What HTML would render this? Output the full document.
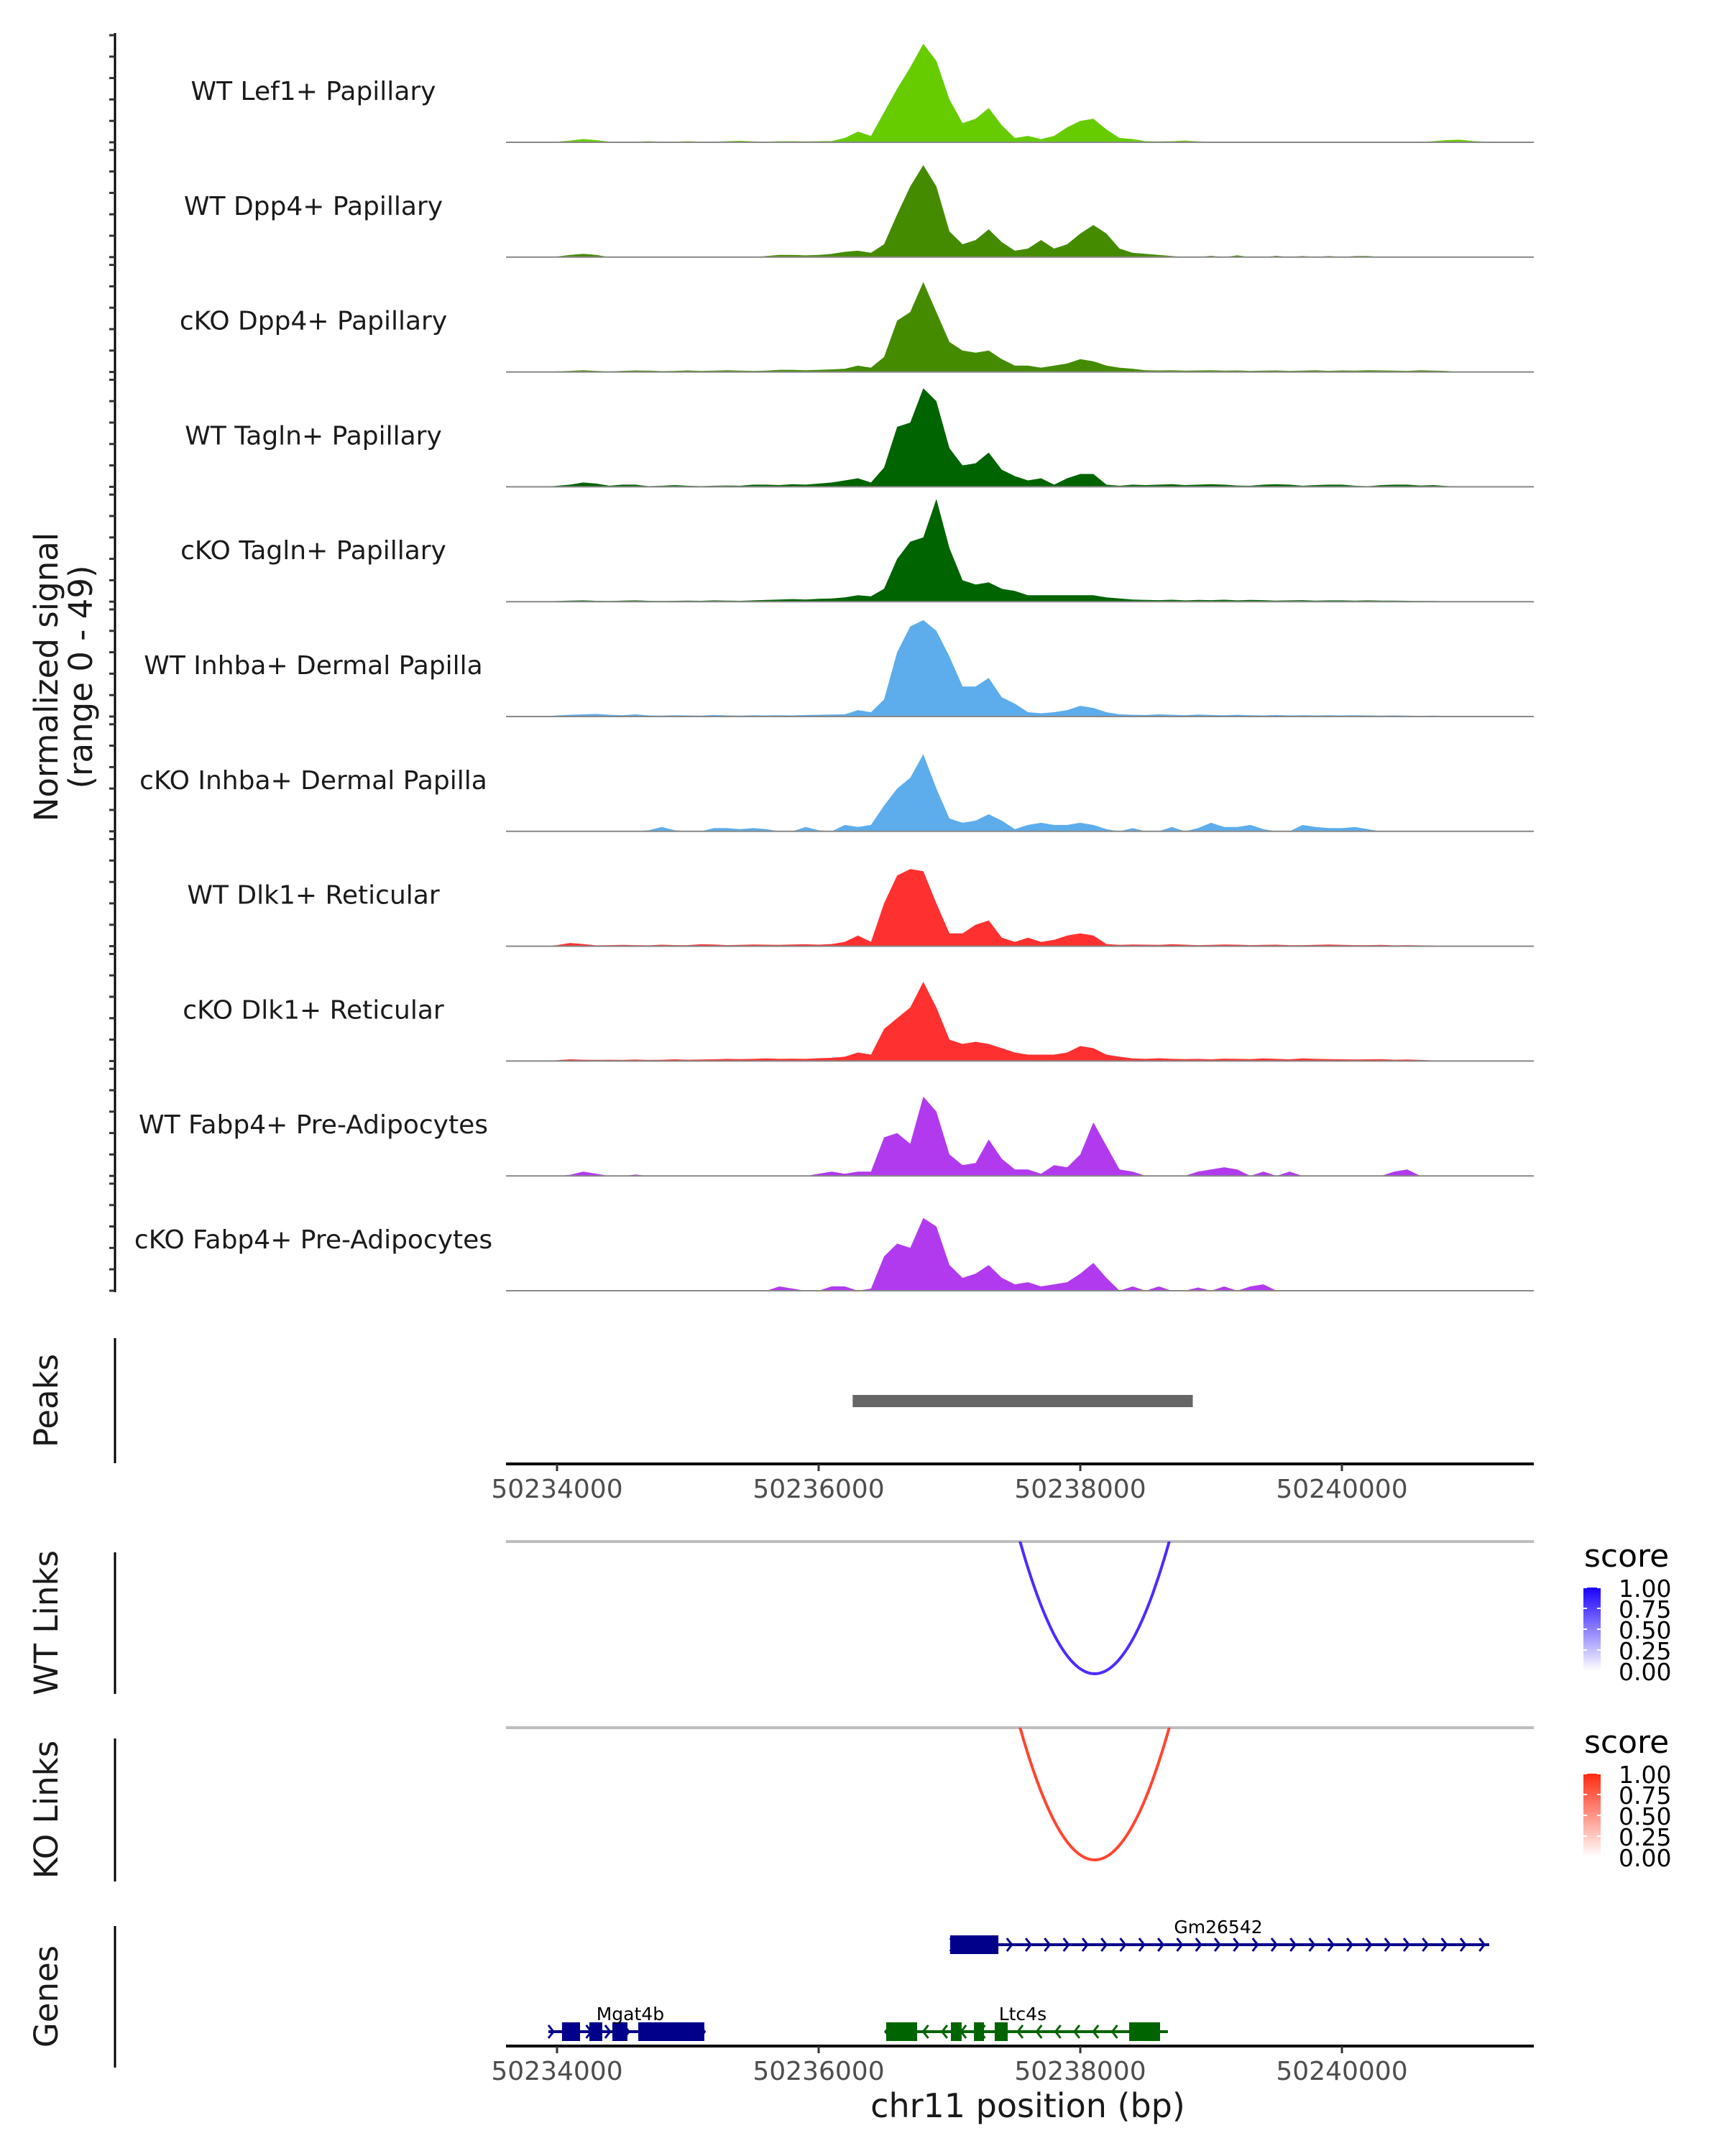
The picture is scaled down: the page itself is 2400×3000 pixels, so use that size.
<!DOCTYPE html>
<html><head><meta charset="utf-8"><style>
html,body{margin:0;padding:0;background:#fff;}
svg{display:block;font-family:"DejaVu Sans","Liberation Sans",sans-serif;}
</style></head><body>
<svg id="chart" width="2400" height="3000" viewBox="0 0 2400 3000" xmlns="http://www.w3.org/2000/svg">
<defs>
<linearGradient id="gBlue" x1="0" y1="1" x2="0" y2="0"><stop offset="0" stop-color="#ffffff"/><stop offset="1" stop-color="#1a00ff"/></linearGradient>
<linearGradient id="gRed" x1="0" y1="1" x2="0" y2="0"><stop offset="0" stop-color="#ffffff"/><stop offset="1" stop-color="#ff2a10"/></linearGradient>
<clipPath id="clipWT"><rect x="704" y="2145" width="1431" height="215"/></clipPath>
<clipPath id="clipKO"><rect x="704" y="2404" width="1431" height="215"/></clipPath>
</defs>
<g id="tracks"></g>
<g id="lower"></g>
</svg>
<script>
const ns="http://www.w3.org/2000/svg";
const trackNames=["WT Lef1+ Papillary","WT Dpp4+ Papillary","cKO Dpp4+ Papillary","WT Tagln+ Papillary","cKO Tagln+ Papillary","WT Inhba+ Dermal Papilla","cKO Inhba+ Dermal Papilla","WT Dlk1+ Reticular","cKO Dlk1+ Reticular","WT Fabp4+ Pre-Adipocytes","cKO Fabp4+ Pre-Adipocytes"];
const trackColors=["#66CC00","#458B00","#458B00","#006400","#006400","#5DADEC","#5DADEC","#FF3030","#FF3030","#B23AEE","#B23AEE"];
const binStart=50233700, binSize=100;
const lef1WT=[0,0,0,0.3,0.8,1.5,1,0.3,0.2,0.3,0.5,0.3,0.3,0.5,0.3,0.3,0.5,0.7,0.4,0.3,0.5,0.5,0.4,0.5,0.6,2,5,3,14,25,35,46,38,20,9,11,16,8,2,3,1.5,3,7,10,11,6,2,1.5,0.5,0.4,0.5,0.8,0.4,0.3,0.3,0.3,0.2,0.3,0.3,0.2,0.2,0.2,0.2,0.2,0.3,0.2,0.2,0.3,0.3,0.2,0.5,1,1.2,0.6,0.3,0,0,0];
const dpp4WT=[0,0,0,0.3,1,1.5,1,0,0,0,0,0,0,0,0,0,0,0,0,0.5,1,1,0.8,1,1.5,2.5,3,2,6,20,33,43,33,12,6,8,13,7,3,4,8,4,6,11,15,11,4,2,1.5,1,0.5,0,0,0.6,0,0.8,0,0,0.6,0,0.5,0,0.5,0,0.5,0.5,0,0,0,0,0,0,0,0,0,0,0,0];
const dpp4KO=[0,0,0,0.3,0.5,0.8,0.5,0.3,0.5,0.7,0.6,0.4,0.5,0.7,0.5,0.6,0.8,0.6,0.5,0.6,1,1,0.8,1,1.2,1.5,3,2,7,24,28,42,28,14,10,9,10,6,3,3,2,3,4,6,5,3,2,1.5,0.8,0.7,0.8,0.6,0.7,0.8,0.6,0.7,0.5,0.6,0.7,0.5,0.6,0.8,0.5,0.7,0.6,0.8,0.7,0.6,0.5,0.8,0.6,0.5,0,0,0,0,0,0];
const taglnWT=[0,0,0,0.5,1,2,1.5,0.5,1,1,0.3,0.5,0.8,0.5,0.3,0.5,0.6,0.5,1,1,0.8,1.2,1,1.5,2,3,4,2,9,28,30,46,40,18,10,11,16,8,5,3,4,1,4,6,6,1,0.5,1,0.8,1,1.2,0.8,1,1.2,1,0.6,0.5,1,1.2,1,0.5,0.8,1,1,0.5,0.3,0.8,1,1,0.6,0.8,0.4,0,0,0,0,0,0];
const taglnKO=[0,0,0,0.3,0.5,0.6,0.4,0.3,0.5,0.6,0.4,0.3,0.4,0.5,0.4,0.6,0.5,0.4,0.6,0.8,1,1.2,1,1.3,1.5,2,3,2.5,6,20,28,30,48,25,10,8,9,6,5,3,3,3,3,3,3,2,1.5,1,0.8,0.7,0.9,0.6,0.8,0.7,0.9,0.6,0.8,0.7,0.5,0.6,0.7,0.5,0.6,0.6,0.5,0.6,0.5,0.5,0.4,0.3,0.3,0.2,0,0,0,0,0,0];
const inhbaWT=[0,0,0,0.5,0.8,1,1.2,0.8,0.6,1,0.5,0.4,0.6,0.5,0.4,0.7,0.5,0.4,0.6,0.5,0.6,0.5,0.7,0.8,0.9,1,3,2,8,30,42,45,40,28,14,14,18,9,6,2,1.5,2,3,5,4,2,1,0.8,0.7,1,0.8,0.6,0.9,0.7,0.6,0.8,0.6,0.5,0.7,0.5,0.6,0.5,0.6,0.5,0.6,0.5,0.4,0.5,0.4,0.3,0.4,0.3,0,0,0,0,0,0];
const inhbaKO=[0,0,0,0,0,0,0,0,0,0,0.5,2,0.5,0,0,1.5,1.5,1,1.5,1,0,0,2,0.5,0,3,2,3,12,20,25,36,20,6,4,5,8,5,1,3,4,3,3,4,3,1,0,1.5,0,0,2,0,1.5,4,2,2,3,1,0,0,3,2,1.5,1.5,2,1,0,0,0,0,0,0,0,0,0,0,0,0];
const dlk1WT=[0,0,0,0.5,1.5,1,0.4,0.5,0.6,0.5,0.4,0.7,0.5,0.5,0.9,0.8,0.5,0.6,0.8,0.7,0.6,0.8,0.9,0.7,1,2,5,2,20,33,36,35,20,6,6,10,12,4,2,4,2,3,5,6,5,1,0.6,0.8,0.7,0.6,0.9,0.7,0.5,0.6,0.8,0.7,0.5,0.6,0.7,0.5,0.5,0.6,0.8,0.6,0.5,0.5,0.6,0.4,0.5,0.4,0.3,0,0,0,0,0,0,0];
const dlk1KO=[0,0,0,0.4,0.8,0.6,0.5,0.6,0.5,0.7,0.5,0.6,0.8,0.6,0.7,0.8,1,0.9,1,1.2,1,1.1,1,1.3,1.5,2,4,3,15,20,25,37,25,10,8,9,8,6,4,3,3,3,4,7,6,3,2,1.2,1,1.3,1,0.9,1,0.8,1.1,1,0.9,1.2,1,0.8,1.2,1,0.9,0.8,0.7,0.8,0.9,0.6,0.7,0.5,0.3,0.2,0,0,0,0,0,0];
const fabp4WT=[0,0,0,0,0.5,2,1,0,0,0.6,0,0,0,0,0,0,0,0,0,0,0,0,0,1,2,1,2,2,18,20,15,37,30,10,5,6,17,8,3,3,1,5,4,10,25,14,3,2,0,0,0,0,2,3,4,3,0,2,0,2,0,0,0,0,0,0,0,2,3,0,0,0,0,0,0,0,0,0];
const fabp4KO=[0,0,0,0,0,0,0,0,0,0,0,0,0,0,0,0,0,0,0,0,2,1,0,0,2,2,0,1,16,22,20,34,30,12,6,8,12,6,3,4,2,3,4,8,13,6,0,2,0,2,0,0,1.5,0,2,0,2,3,0,0,0,0,0,0,0,0,0,0,0,0,0,0,0,0,0,0,0];
const trackValues=[lef1WT,dpp4WT,dpp4KO,taglnWT,taglnKO,inhbaWT,inhbaKO,dlk1WT,dlk1KO,fabp4WT,fabp4KO];
const xTicks=[50234000,50236000,50238000,50240000];
const yTicks=[0,10,20,30,40,50];
const peakRanges=[[50236260,50238860]];
const linkWT=[[50237540,50238680,1.0]];
const linkKO=[[50237540,50238680,1.0]];
const legendTicks=["0.00","0.25","0.50","0.75","1.00"];
const genePlus={name:"Gm26542",start:50237005,end:50241126,exons:[[50237005,50237374]],strand:1,row:0,color:"#00008B",labelBp:50239055};
const geneMgat={name:"Mgat4b",start:50233934,end:50235126,exons:[[50234038,50234176],[50234247,50234346],[50234423,50234538],[50234621,50235126]],strand:1,row:1,color:"#00008B",labelBp:50234560};
const geneLtc={name:"Ltc4s",start:50236505,end:50238670,exons:[[50236516,50236753],[50237011,50237093],[50237187,50237264],[50237346,50237445],[50238374,50238610]],strand:-1,row:1,color:"#006400",labelBp:50237560};
const genes=[genePlus,geneMgat,geneLtc];

const X0=704,X1=2134;
function xs(bp){return 775+(bp-50234000)*364/2000;}
const base0=198,trackStep=159.8,yPer=149/50;
function mk(tag,attrs,parent,text){const e=document.createElementNS(ns,tag);for(const k in attrs)e.setAttribute(k,attrs[k]);if(text!==undefined)e.textContent=text;(parent||svg).appendChild(e);return e;}
const svg=document.getElementById('chart');
const tg=document.getElementById('tracks');
const lg=document.getElementById('lower');

let ax=mk('line',{x1:160,y1:46,x2:160,y2:base0+trackStep*10+2,stroke:'#000','stroke-width':3},tg);


let yt=mk('text',{x:0,y:0,'font-size':45,'text-anchor':'middle',fill:'#1a1a1a',transform:'translate(80,942) rotate(-90)'},tg,'Normalized signal');


let yt2=mk('text',{x:0,y:0,'font-size':45,'text-anchor':'middle',fill:'#1a1a1a',transform:'translate(128,942) rotate(-90)'},tg,'(range 0 - 49)');



trackNames.forEach((name,t)=>{
  const b=base0+trackStep*t;
  const g=mk('g',{},tg);
  
  
  yTicks.forEach(v=>{const tk=mk('line',{x1:152,x2:160,y1:b-v*yPer,y2:b-v*yPer,stroke:'#333','stroke-width':3},g);
    
    });
  const vals=trackValues[t];
  let d='M'+xs(binStart)+','+b;
  vals.forEach((v,i)=>{d+=' L'+xs(binStart+binSize*i).toFixed(1)+','+(b-v*yPer).toFixed(1);});
  d+=' L'+xs(binStart+binSize*(vals.length-1)).toFixed(1)+','+b+' Z';
  const a=mk('path',{d:d,fill:trackColors[t],stroke:'none'},g);
  
  
  const bl=mk('line',{x1:X0,x2:X1,y1:b,y2:b,stroke:'#888','stroke-width':2},g);
  
  
  const lb=mk('text',{x:436,y:b-69,'font-size':36,'text-anchor':'middle','dominant-baseline':'middle',fill:'#1a1a1a'},g,name);
  
  
});

function panelAxis(y1,y2,title,cy,nm){
  const l=mk('line',{x1:160,x2:160,y1:y1,y2:y2,stroke:'#000','stroke-width':3},lg);
  
  
  const t=mk('text',{x:0,y:0,'font-size':45,'text-anchor':'middle',fill:'#1a1a1a',transform:'translate(80,'+cy+') rotate(-90)'},lg,title);
  
  
}
panelAxis(1862,2036,'Peaks',1949,'peaks');
panelAxis(2160,2357,'WT Links',2258,'wt-links');
panelAxis(2419,2618,'KO Links',2518,'ko-links');
panelAxis(2680,2877,'Genes',2778,'genes');

peakRanges.forEach(p=>{const r=mk('rect',{x:xs(p[0]),y:1941,width:xs(p[1])-xs(p[0]),height:17,fill:'#666'},lg);
  
  });

function xAxis(y,nm){
  const l=mk('line',{x1:X0,x2:X1,y1:y,y2:y,stroke:'#000','stroke-width':4},lg);
  
  
  xTicks.forEach(v=>{
    const tk=mk('line',{x1:xs(v),x2:xs(v),y1:y,y2:y+10,stroke:'#333','stroke-width':3},lg);
    
    
    const tl=mk('text',{x:xs(v),y:y+47,'font-size':36,'text-anchor':'middle',fill:'#4d4d4d'},lg,String(v));
    
    
  });
}
xAxis(2037,'peaks-x-axis');
xAxis(2847,'genes-x-axis');
const xt=mk('text',{x:1430,y:2946,'font-size':46,'text-anchor':'middle',fill:'#1a1a1a'},lg,'chr11 position (bp)');



function links(arr,y0,depth,clip,color,nm){
  const bl=mk('line',{x1:X0,x2:X1,y1:y0,y2:y0,stroke:'#bebebe','stroke-width':4},lg);
  
  
  arr.forEach(k=>{
    const a=xs(k[0]),b=xs(k[1]);const mid=(a+b)/2,half=(b-a)/2;
    let d='';
    for(let i=0;i<=80;i++){const x=a-20+(b-a+40)*i/80;const u=(x-mid)/half;const y=y0+depth*(1-u*u);d+=(i?' L':'M')+x.toFixed(1)+','+y.toFixed(1);}
    const p=mk('path',{d:d,fill:'none',stroke:color,'stroke-width':4,'clip-path':'url(#'+clip+')'},lg);
    
    
  });
}
links(linkWT,2145,184,'clipWT','#4d2bff','wt-link');
links(linkKO,2404,184,'clipKO','#ff4530','ko-link');

function legend(y,grad,nm){
  const g=mk('g',{},lg);
  
  
  mk('text',{x:2204,y:y,'font-size':44,fill:'#000'},g,'score');
  mk('rect',{x:2203,y:y+29,width:24,height:116,fill:'url(#'+grad+')'},g);
  legendTicks.forEach((t,i)=>{const yy=y+145-i*29;
    mk('line',{x1:2203,x2:2208,y1:yy,y2:yy,stroke:'#fff','stroke-width':2},g);
    mk('line',{x1:2222,x2:2227,y1:yy,y2:yy,stroke:'#fff','stroke-width':2},g);
    mk('text',{x:2252,y:yy+13,'font-size':33,fill:'#000'},g,t);});
}
legend(2180,'gBlue','wt-score-legend');
legend(2439,'gRed','ko-score-legend');

genes.forEach(gn=>{
  const y=gn.row===0?2706:2827;
  const g=mk('g',{},lg);
  
  
  mk('line',{x1:xs(gn.start),x2:xs(gn.end),y1:y,y2:y,stroke:gn.color,'stroke-width':4},g);
  const s=xs(gn.start),e=xs(gn.end);
  for(let x=s+4;x<=e+2;x+=26.3){
    const d=gn.strand>0?'M'+(x-4)+','+(y-9)+' L'+(x+3)+','+y+' L'+(x-4)+','+(y+9):'M'+(x+4)+','+(y-9)+' L'+(x-3)+','+y+' L'+(x+4)+','+(y+9);
    mk('path',{d:d,fill:'none',stroke:gn.color,'stroke-width':3},g);
  }
  gn.exons.forEach(ex=>{mk('rect',{x:xs(ex[0]),y:y-13,width:xs(ex[1])-xs(ex[0]),height:26,fill:gn.color},g);});
  mk('text',{x:xs(gn.labelBp),y:y-16,'font-size':25,'text-anchor':'middle',fill:'#000'},g,gn.name);
});
</script>
</body></html>
